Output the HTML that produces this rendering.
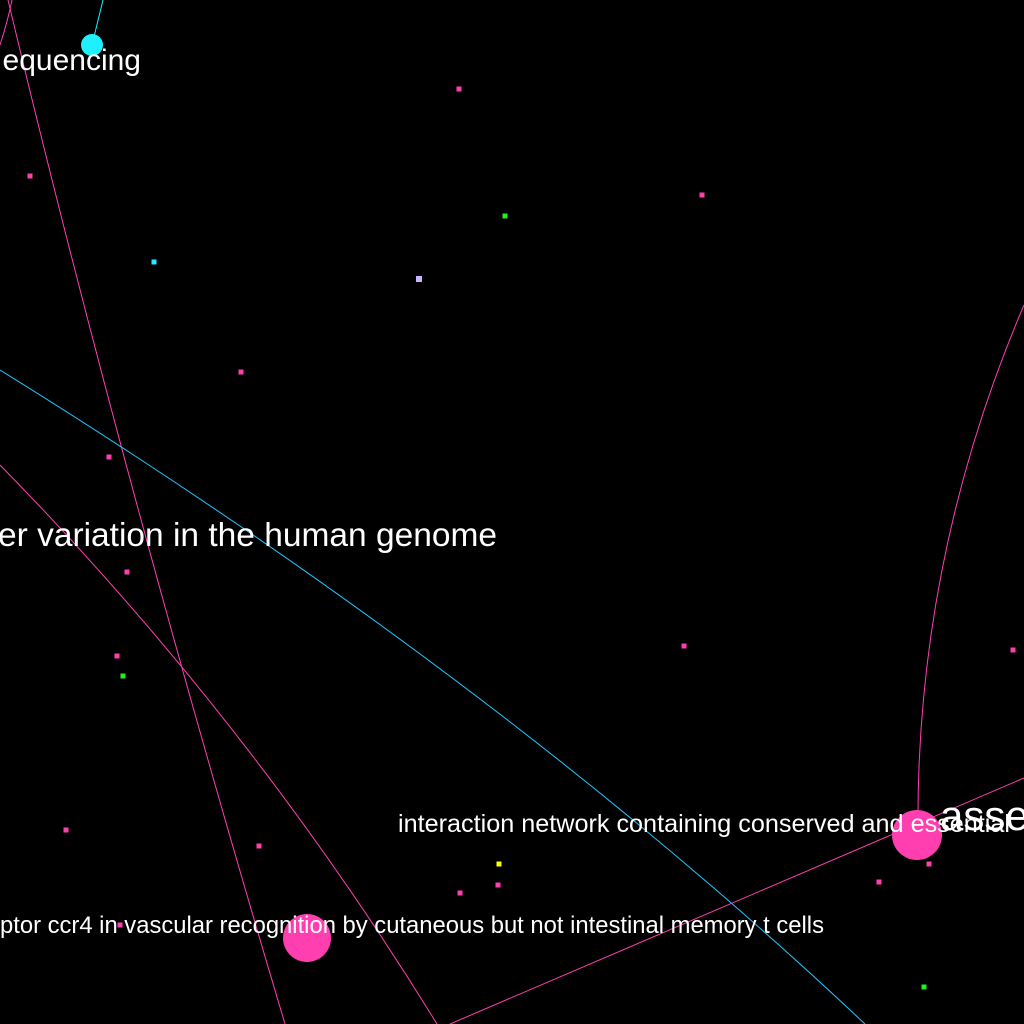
<!DOCTYPE html>
<html><head><meta charset="utf-8">
<style>
html,body{margin:0;padding:0;background:#000;width:1024px;height:1024px;overflow:hidden}
svg{display:block}
text{font-family:"Liberation Sans",sans-serif;fill:#fff}
</style></head>
<body>
<svg id="chart" width="1024" height="1024" viewBox="0 0 1024 1024">
<rect width="1024" height="1024" fill="#000"/>
<g id="edges"></g>
<g id="nodes"></g>
<g id="labels"></g>
</svg>
<script>
const edgePaths = [
  "M8,0 Q120,470 285,1024",
  "M0,45 Q8,20 12,0",
  "M0,465 Q250,720 437,1024",
  "M0,370 Q500,680 865,1024",
  "M92,45 L103,0",
  "M918,835 Q915,560 1024,305",
  "M450,1024 L1024,778"
];
const edgeColors = ["#ff3fb0","#ff3fb0","#ff3fb0","#1ec8ff","#1ef0ff","#ff3fb0","#ff3fb0"];

const nodeX = [92,459,30,702,505,154,419,241,109,127,117,123,684,1013,66,259,499,498,460,879,929,924,120,307,917];
const nodeY = [45,89,176,195,216,262,279,372,457,572,656,676,646,650,830,846,864,885,893,882,864,987,925,938,835];
const nodeR = [11,2.5,2.5,2.5,2.5,2.5,3,2.5,2.5,2.5,2.5,2.5,2.5,2.5,2.5,2.5,2.5,2.5,2.5,2.5,2.5,2.5,2.5,24,25];
const nodeColors = ["#1ef0ff","#ff3fb0","#ff3fb0","#ff3fb0","#22ee22","#1ef0ff","#c8b4ff","#ff3fb0","#ff3fb0","#ff3fb0","#ff3fb0","#22ee22","#ff3fb0","#ff3fb0","#ff3fb0","#ff3fb0","#ffff00","#ff3fb0","#ff3fb0","#ff3fb0","#ff3fb0","#22ee22","#ff3fb0","#ff3fb0","#ff3fb0"];

const labelTexts = ["equencing","er variation in the human genome","interaction network containing conserved and essential","asse","ptor ccr4 in vascular recognition by cutaneous but not intestinal memory t cells"];
const labelX = [141,-2,398,940,0];
const labelY = [70,546,832,830,933];
const labelSize = [30,33,25,42,24];
const labelAnchor = ["end","start","start","start","start"];
const labelLen = [0,499,612,0,824];

const NS = "http://www.w3.org/2000/svg";
const eg = document.getElementById("edges");
edgePaths.forEach((d,i)=>{
  const p = document.createElementNS(NS,"path");
  p.setAttribute("d", d);
  p.setAttribute("fill","none");
  p.setAttribute("stroke", edgeColors[i]);
  p.setAttribute("stroke-width","1");
  
  
  eg.appendChild(p);
});
const ng = document.getElementById("nodes");
nodeX.forEach((x,i)=>{
  let el;
  if (nodeR[i] < 4) {
    el = document.createElementNS(NS,"rect");
    el.setAttribute("x", x - nodeR[i]);
    el.setAttribute("y", nodeY[i] - nodeR[i]);
    el.setAttribute("width", nodeR[i]*2);
    el.setAttribute("height", nodeR[i]*2);
  } else {
    el = document.createElementNS(NS,"circle");
    el.setAttribute("cx", x);
    el.setAttribute("cy", nodeY[i]);
    el.setAttribute("r", nodeR[i]);
  }
  el.setAttribute("fill", nodeColors[i]);
  
  
  ng.appendChild(el);
});
const lg = document.getElementById("labels");
labelTexts.forEach((t,i)=>{
  const el = document.createElementNS(NS,"text");
  el.setAttribute("x", labelX[i]);
  el.setAttribute("y", labelY[i]);
  el.setAttribute("font-size", labelSize[i]);
  el.setAttribute("text-anchor", labelAnchor[i]);
  if (labelLen[i] > 0) {
    el.setAttribute("textLength", labelLen[i]);
    el.setAttribute("lengthAdjust", "spacingAndGlyphs");
  }
  el.textContent = t;
  
  
  lg.appendChild(el);
});
</script>
</body></html>
